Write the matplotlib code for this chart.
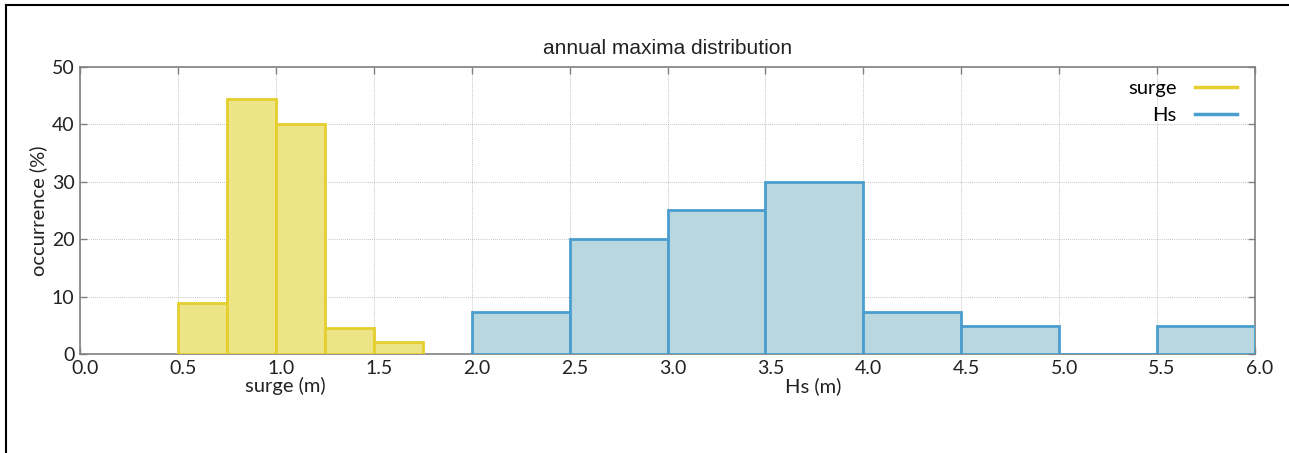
import numpy as np
import matplotlib
matplotlib.use("Agg")
import matplotlib.pyplot as plt
from matplotlib.lines import Line2D
from matplotlib.transforms import ScaledTranslation

# histogram data
surge_edges = [0.5, 0.75, 1.0, 1.25, 1.5]
surge_pct = [8.9, 44.4, 40.0, 4.5, 2.2]
hs_edges = [2.0, 2.5, 3.0, 3.5, 4.0, 4.5, 5.0, 5.5]
hs_pct = [7.4, 20.0, 25.0, 30.0, 7.4, 5.0, 0.0, 5.0]
surge_w = 0.25
hs_w = 0.5

xticks = np.arange(0, 6.01, 0.5)
yticks = [0, 10, 20, 30, 40, 50]

surge_fill = "#ece486"
surge_edge = "#e5cf2e"
hs_fill = "#b8d7de"
hs_edge = "#4a9ecf"
grey = "#808080"
txt = "#222222"

plt.rcParams['font.family'] = ['Lato', 'DejaVu Sans']

fig = plt.figure(figsize=(12.89, 4.53), dpi=100)
ax = fig.add_axes([0.0621, 0.2179, 0.9115, 0.6349])

ax.bar(surge_edges, surge_pct, width=surge_w, align='edge',
       color=surge_fill, edgecolor=surge_edge, linewidth=2, zorder=3)
ax.bar(hs_edges, hs_pct, width=hs_w, align='edge',
       color=hs_fill, edgecolor=hs_edge, linewidth=2, zorder=3)

ax.set_xlim(0, 6)
ax.set_ylim(0, 50)
ax.set_xticks(xticks)
ax.set_xticklabels(["%.1f" % v for v in xticks])
ax.set_yticks(yticks)
ax.set_axisbelow(True)
ax.grid(True, linestyle=(0, (1, 1.5)), color="#b0b0b0", linewidth=0.6)

ax.tick_params(direction='in', top=True, right=True, length=5, width=1,
               color=grey, labelsize=14, labelcolor=txt, pad=4)
for lab in ax.get_xticklabels():
    lab.set_transform(lab.get_transform() + ScaledTranslation(5/100, 0, fig.dpi_scale_trans))
for s in ax.spines.values():
    s.set_color(grey)
    s.set_linewidth(1.2)

ax.set_ylabel("occurrence (%)", fontsize=14.5, color=txt, labelpad=3)
ax.set_title("annual maxima distribution", fontsize=15, color=txt,
             family="Liberation Sans", pad=9)

# two x labels, one under each group
fig.text(285/1289, 1-386/453, "surge (m)", ha='center', va='center', fontsize=14.5, color=txt)
fig.text(813/1289, 1-386/453, "Hs (m)", ha='center', va='center', fontsize=14.5, color=txt)

handles = [Line2D([], [], color=surge_edge, lw=2.5), Line2D([], [], color=hs_edge, lw=2.5)]
ax.legend(handles, ["surge", "Hs"], loc='upper right', frameon=False, markerfirst=False,
          fontsize=14.5, handlelength=2.1, handletextpad=0.9, labelspacing=0.5,
          borderaxespad=0.6, bbox_to_anchor=(1 + 2/1175, 1 + 7/287.6))

# figure frame (top and left only)
fig.add_artist(Line2D([6/1289, 1289/1289], [1-5/453, 1-5/453], color='black', lw=1.5,
                      transform=fig.transFigure))
fig.add_artist(Line2D([6/1289, 6/1289], [0, 1-5/453], color='black', lw=1.5,
                      transform=fig.transFigure))

fig.savefig("out.png", dpi=100)
